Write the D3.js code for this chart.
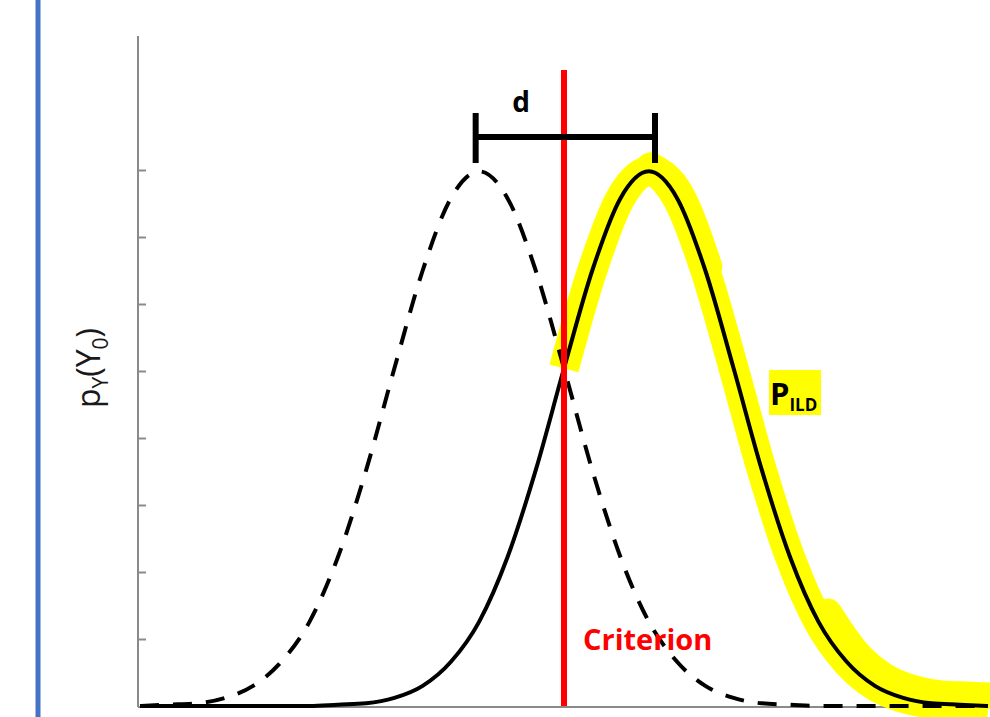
<!DOCTYPE html>
<html>
<head>
<meta charset="utf-8">
<script src="https://cdn.jsdelivr.net/npm/d3@7"></script>
<style>
  html, body { margin: 0; padding: 0; background: #fff; }
  svg { display: block; }
</style>
</head>
<body>
<svg id="chart" width="990" height="717"></svg>
<script>
// Decision axis positions (in units of the noise standard deviation)
const xValues = d3.range(-15, 16).map(k => +(k * 0.32).toFixed(2));

// Noise-only distribution (dashed), density read at each x position
const noiseDensity = [
  0.000, 0.001, 0.002, 0.006, 0.015, 0.033, 0.063, 0.111, 0.176, 0.252,
  0.325, 0.379, 0.399, 0.379, 0.325, 0.252, 0.176, 0.111, 0.063, 0.033,
  0.015, 0.006, 0.002, 0.001, 0.000, 0.000, 0.000, 0.000, 0.000, 0.000, 0.000
];

// Signal distribution (solid), density read at each x position
const signalDensity = [
  0.000, 0.000, 0.000, 0.000, 0.000, 0.000, 0.000, 0.001, 0.002, 0.006,
  0.015, 0.033, 0.063, 0.111, 0.176, 0.252, 0.325, 0.379, 0.399, 0.379,
  0.325, 0.252, 0.176, 0.111, 0.063, 0.033, 0.015, 0.006, 0.002, 0.001, 0.000
];

const criterion = 0;          // decision criterion position
const dBracket = [-1.0, 1.03]; // separation d between the two means
const yTicks = [0.05, 0.10, 0.15, 0.20, 0.25, 0.30, 0.35, 0.40];

const svg = d3.select("#chart");

const x = d3.scaleLinear().domain([-4.8, 4.8]).range([140, 988]);
const y = d3.scaleLinear().domain([0, 0.5]).range([706, 36]);

// Left margin rule
svg.append("line")
  .attr("x1", 38).attr("x2", 38).attr("y1", 0).attr("y2", 717)
  .attr("stroke", "#4472C4").attr("stroke-width", 5);

// Y axis with inward ticks, no labels
const yAxis = d3.axisRight(y).tickValues(yTicks).tickSize(8).tickFormat("");
const gy = svg.append("g").attr("transform", "translate(138,0)").call(yAxis);
gy.select(".domain").remove();
gy.selectAll(".tick line").attr("stroke", "#8a8a8a").attr("stroke-width", 2);
svg.append("line")
  .attr("x1", 138).attr("x2", 138).attr("y1", 36).attr("y2", 707)
  .attr("stroke", "#8a8a8a").attr("stroke-width", 2);

// X axis baseline
svg.append("line")
  .attr("x1", 138).attr("x2", 990).attr("y1", y(0) + 1).attr("y2", y(0) + 1)
  .attr("stroke", "#8a8a8a").attr("stroke-width", 2);

const noisePts = xValues.map((v, i) => [v, noiseDensity[i]]);
const signalPts = xValues.map((v, i) => [v, signalDensity[i]]);

const line = d3.line()
  .x(d => x(d[0]))
  .y(d => y(d[1]))
  .curve(d3.curveMonotoneX);

// Highlighted hit region of the signal curve, right of the criterion
const hitPts = signalPts.filter(d => d[0] >= criterion);
const marker = svg.append("g")
  .attr("fill", "none")
  .attr("stroke", "#FFFF00")
  .attr("stroke-linejoin", "round");
marker.append("path")
  .datum(hitPts)
  .attr("d", line)
  .attr("stroke-width", 30)
  .attr("stroke-linecap", "butt");
marker.append("path")
  .datum(hitPts.filter(d => d[0] >= 2.8))
  .attr("d", line)
  .attr("transform", "translate(10,-10)")
  .attr("stroke-width", 26)
  .attr("stroke-linecap", "round");
marker.append("path")
  .datum(hitPts.filter(d => d[0] >= 0.96 && d[0] <= 1.6))
  .attr("d", line)
  .attr("transform", "translate(2,-4)")
  .attr("stroke-width", 30)
  .attr("stroke-linecap", "round");

// Noise distribution (dashed)
svg.append("path")
  .datum(noisePts)
  .attr("d", line)
  .attr("fill", "none")
  .attr("stroke", "#000")
  .attr("stroke-width", 4)
  .attr("stroke-dasharray", "19,14");

// Signal distribution (solid)
svg.append("path")
  .datum(signalPts)
  .attr("d", line)
  .attr("fill", "none")
  .attr("stroke", "#000")
  .attr("stroke-width", 4);

// Criterion line
svg.append("line")
  .attr("x1", x(criterion)).attr("x2", x(criterion))
  .attr("y1", 70).attr("y2", 706)
  .attr("stroke", "#FF0000").attr("stroke-width", 6);

// d bracket
const by = 137;
const bracket = svg.append("g").attr("stroke", "#000").attr("stroke-width", 6);
bracket.append("line")
  .attr("x1", x(dBracket[0])).attr("x2", x(dBracket[1]))
  .attr("y1", by).attr("y2", by);
dBracket.forEach(v => {
  bracket.append("line")
    .attr("x1", x(v)).attr("x2", x(v))
    .attr("y1", by - 24).attr("y2", by + 26);
});
svg.append("text")
  .attr("x", 521)
  .attr("y", 112)
  .attr("text-anchor", "middle")
  .attr("font-family", "'Open Sans', sans-serif")
  .attr("font-weight", "bold")
  .attr("font-size", 28)
  .attr("fill", "#000")
  .text("d");

// Criterion label
svg.append("text")
  .attr("x", 583)
  .attr("y", 650)
  .attr("font-family", "'Open Sans', sans-serif")
  .attr("font-weight", "bold")
  .attr("font-size", 29)
  .attr("fill", "#FF0000")
  .text("Criterion");

// P_ILD label on yellow box
svg.append("rect")
  .attr("x", 769).attr("y", 370).attr("width", 52).attr("height", 45)
  .attr("fill", "#FFFF00");
const pl = svg.append("text")
  .attr("x", 770)
  .attr("y", 405)
  .attr("font-family", "'Open Sans', sans-serif")
  .attr("font-weight", "bold")
  .attr("fill", "#000");
pl.append("tspan").attr("font-size", 31).text("P");
pl.append("tspan").attr("font-size", 17).attr("dy", 6).text("ILD");

// Y axis title p_Y(Y_0)
const yl = svg.append("text")
  .attr("transform", "translate(100,368) rotate(-90)")
  .attr("text-anchor", "middle")
  .attr("font-family", "'Open Sans', sans-serif")
  .attr("font-size", 32)
  .attr("fill", "#1a1a1a");
yl.append("tspan").text("p");
yl.append("tspan").attr("font-size", 21).attr("dy", 8).text("Y");
yl.append("tspan").attr("dy", -8).text("(Y");
yl.append("tspan").attr("font-size", 21).attr("dy", 8).text("0");
yl.append("tspan").attr("dy", -8).text(")");
</script>
</body>
</html>
